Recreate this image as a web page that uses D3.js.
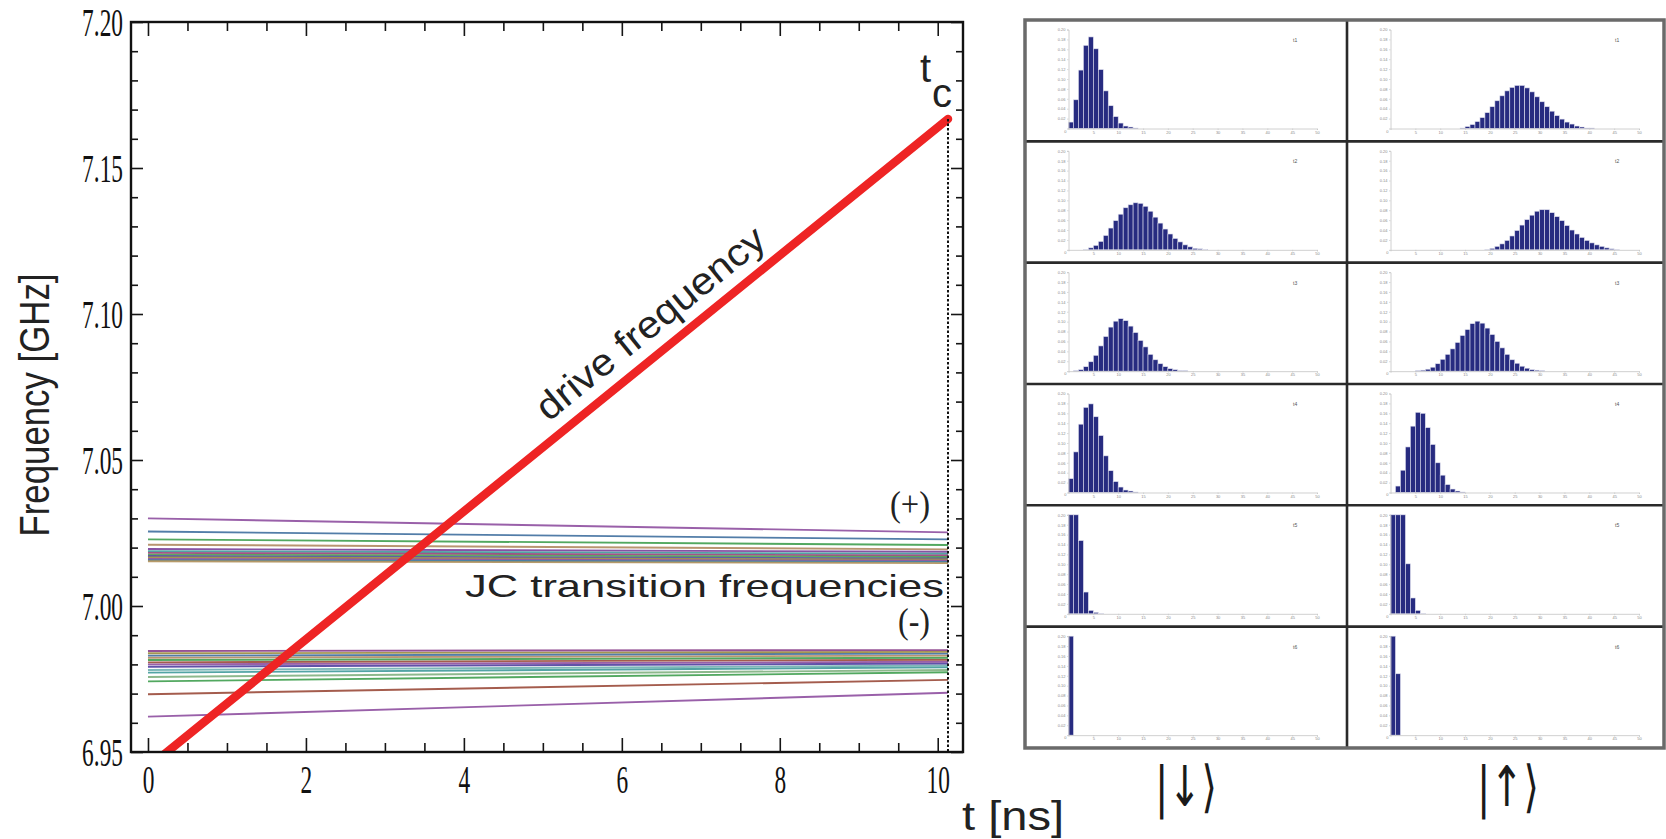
<!DOCTYPE html>
<html>
<head>
<meta charset="utf-8">
<script src="https://cdn.jsdelivr.net/npm/d3@7"></script>
<style>
  html, body { margin: 0; padding: 0; background: #ffffff; }
  svg { display: block; }
</style>
</head>
<body>
<svg id="chart" width="1666" height="839"></svg>
<script>
// ---------------- data ----------------
// left plot: time axis [ns] and frequency axis [GHz]
const tMajorTicks = [0, 2, 4, 6, 8, 10];
const fMajorTicks = [6.95, 7.00, 7.05, 7.10, 7.15, 7.20];
const fTickLabels = ["6.95", "7.00", "7.05", "7.10", "7.15", "7.20"];
const tCritical = 10.13;                 // t_c, end of the sweep
const driveTimes = [0, 10.13];
const driveFreqs = [6.9447, 7.1668];    // linear chirp of the drive

// JC transition frequencies at t = 0 and at t = t_c, (+) branch, outermost first
const jcPlusStart = [7.0300, 7.0255, 7.0228, 7.0210, 7.0195, 7.0188, 7.0182, 7.0176, 7.0171, 7.0166, 7.0161, 7.0157, 7.0153];
const jcPlusEnd   = [7.0252, 7.0228, 7.0209, 7.0194, 7.0186, 7.0179, 7.0173, 7.0168, 7.0163, 7.0159, 7.0155, 7.0151, 7.0147];
const jcPlusColors = ["#8e4fa0", "#3f6f9f", "#3f9f4f", "#b08a60", "#7a3f9a", "#3f9a9a", "#9a3f7a", "#4fa04f", "#4f4f9f", "#9a8a3f", "#8e4fa0", "#3f7f9f", "#b0905a"];

// (-) branch, outermost first
const jcMinusStart = [6.9621, 6.9698, 6.9742, 6.9757, 6.9772, 6.9781, 6.9792, 6.9800, 6.9807, 6.9815, 6.9823, 6.9830, 6.9838, 6.9846];
const jcMinusEnd   = [6.9703, 6.9747, 6.9773, 6.9781, 6.9790, 6.9796, 6.9803, 6.9809, 6.9816, 6.9823, 6.9830, 6.9837, 6.9843, 6.9849];
const jcMinusColors = ["#8e4fa0", "#9a4a3a", "#3f9f4f", "#7fb07f", "#3f9a9a", "#6fb0b0", "#4f3f9f", "#8e4fa0", "#9a4a3a", "#3f9f4f", "#b08a60", "#3f6f9f", "#9a8a3f", "#8a3f8a"];

// right panels: photon-number distributions P(n), first bin index and values
const pDownStart = [0, 3, 1, 0, 0, 0];
const pDown = [
  [0.013, 0.058, 0.118, 0.168, 0.185, 0.161, 0.119, 0.076, 0.046, 0.024, 0.011, 0.005, 0.003, 0.001],
  [0.001, 0.004, 0.009, 0.017, 0.029, 0.044, 0.059, 0.072, 0.085, 0.091, 0.095, 0.094, 0.088, 0.078, 0.066, 0.054, 0.042, 0.032, 0.023, 0.016, 0.010, 0.006, 0.003, 0.002, 0.001],
  [0.001, 0.003, 0.009, 0.019, 0.032, 0.051, 0.070, 0.089, 0.101, 0.106, 0.102, 0.091, 0.078, 0.062, 0.049, 0.034, 0.023, 0.015, 0.009, 0.005, 0.003, 0.001, 0.001],
  [0.028, 0.082, 0.138, 0.172, 0.179, 0.153, 0.115, 0.074, 0.044, 0.022, 0.011, 0.005, 0.003, 0.001],
  [0.200, 0.200, 0.148, 0.044, 0.007, 0.003, 0.001],
  [0.200]
];
const pUpStart = [14, 19, 5, 1, 0, 0];
const pUp = [
  [0.001, 0.004, 0.008, 0.014, 0.022, 0.032, 0.044, 0.056, 0.066, 0.076, 0.083, 0.087, 0.087, 0.082, 0.074, 0.064, 0.054, 0.044, 0.035, 0.026, 0.019, 0.013, 0.009, 0.005, 0.003, 0.001, 0.001],
  [0.001, 0.003, 0.007, 0.012, 0.019, 0.028, 0.039, 0.050, 0.061, 0.070, 0.078, 0.081, 0.081, 0.075, 0.067, 0.059, 0.049, 0.040, 0.032, 0.025, 0.019, 0.014, 0.010, 0.007, 0.004, 0.002, 0.001],
  [0.001, 0.002, 0.004, 0.008, 0.015, 0.024, 0.034, 0.045, 0.058, 0.072, 0.084, 0.096, 0.101, 0.097, 0.087, 0.074, 0.060, 0.047, 0.034, 0.023, 0.016, 0.010, 0.006, 0.003, 0.002, 0.001],
  [0.013, 0.045, 0.092, 0.134, 0.162, 0.160, 0.131, 0.097, 0.060, 0.035, 0.016, 0.007, 0.003, 0.001],
  [0.200, 0.200, 0.200, 0.101, 0.032, 0.007, 0.001],
  [0.200, 0.124]
];
const pTickValues = [0.02, 0.04, 0.06, 0.08, 0.10, 0.12, 0.14, 0.16, 0.18, 0.20];
const nTickValues = [5, 10, 15, 20, 25, 30, 35, 40, 45, 50];
const panelTags = ["t1", "t2", "t3", "t4", "t5", "t6"];
const ketLabels = ["|\u2193\u27E9", "|\u2191\u27E9"];

// ---------------- drawing ----------------
const svg = d3.select("#chart");
const SANS = "'Liberation Sans', Arial, sans-serif";
const SERIF = "'Liberation Serif', 'Times New Roman', serif";

// ===== left plot =====
const L = { left: 131, right: 963, top: 22, bottom: 752 };
const x = d3.scaleLinear().domain([-0.215, 10.32]).range([L.left, L.right]);
const y = d3.scaleLinear().domain([6.95, 7.20]).range([L.bottom, L.top]);

const clipId = "plotClip";
svg.append("clipPath").attr("id", clipId)
  .append("rect").attr("x", L.left).attr("y", L.top)
  .attr("width", L.right - L.left).attr("height", L.bottom - L.top);

const plot = svg.append("g").attr("clip-path", `url(#${clipId})`);

// JC transition lines
function drawBundle(starts, ends, colors) {
  plot.append("g").selectAll("line")
    .data(starts.map((s, i) => ({ s, e: ends[i], c: colors[i % colors.length] })))
    .join("line")
    .attr("x1", x(0)).attr("x2", x(tCritical))
    .attr("y1", d => y(d.s)).attr("y2", d => y(d.e))
    .attr("stroke", d => d.c)
    .attr("stroke-width", 1.9)
    .attr("stroke-opacity", 0.9);
}
drawBundle(jcPlusStart, jcPlusEnd, jcPlusColors);
drawBundle(jcMinusStart, jcMinusEnd, jcMinusColors);

// drive frequency sweep
const driveLine = d3.line().x(d => x(d[0])).y(d => y(d[1]));
plot.append("path")
  .datum(driveTimes.map((t, i) => [t, driveFreqs[i]]))
  .attr("d", driveLine)
  .attr("fill", "none")
  .attr("stroke", "#ee2424")
  .attr("stroke-width", 8.5)
  .attr("stroke-linecap", "round");

// dotted marker at t_c
svg.append("line")
  .attr("x1", x(tCritical)).attr("x2", x(tCritical))
  .attr("y1", y(driveFreqs[1])).attr("y2", L.bottom)
  .attr("stroke", "#111").attr("stroke-width", 2)
  .attr("stroke-dasharray", "2.5,2");

// axes: ticks point inward on all four sides
const tMinor = d3.range(0, 10.001, 0.5).filter(v => v % 2 !== 0);
const fMinor = d3.range(0, 26).map(i => +(6.95 + i * 0.01).toFixed(2)).filter(v => !fMajorTicks.includes(v));

function tickGroup(axis, tx, ty) {
  const g = svg.append("g").attr("transform", `translate(${tx},${ty})`).call(axis);
  g.select(".domain").remove();
  g.selectAll(".tick line").attr("stroke", "#151515").attr("stroke-width", 1.6);
  return g;
}
tickGroup(d3.axisBottom(x).tickValues(tMinor).tickSize(-9).tickFormat(""), 0, L.bottom);
tickGroup(d3.axisTop(x).tickValues(tMinor).tickSize(-9).tickFormat(""), 0, L.top);
tickGroup(d3.axisTop(x).tickValues(tMajorTicks).tickSize(-14).tickFormat(""), 0, L.top);
tickGroup(d3.axisLeft(y).tickValues(fMinor).tickSize(-7).tickFormat(""), L.left, 0);
tickGroup(d3.axisRight(y).tickValues(fMinor).tickSize(-7).tickFormat(""), L.right, 0);
tickGroup(d3.axisRight(y).tickValues(fMajorTicks).tickSize(-12).tickFormat(""), L.right, 0);

const xAxisG = tickGroup(d3.axisBottom(x).tickValues(tMajorTicks).tickSize(-14).tickFormat(d3.format("d")), 0, L.bottom);
xAxisG.selectAll("text")
  .attr("y", 41).attr("dy", null)
  .attr("font-family", SERIF).attr("font-size", 41).attr("fill", "#111")
  .attr("transform", "scale(0.57,1)");

const yAxisG = tickGroup(d3.axisLeft(y).tickValues(fMajorTicks).tickSize(-12).tickFormat((d, i) => fTickLabels[i]), L.left, 0);
yAxisG.selectAll("text")
  .attr("x", -8 / 0.57).attr("dy", "0.33em")
  .attr("font-family", SERIF).attr("font-size", 41).attr("fill", "#111")
  .attr("transform", "scale(0.57,1)");

// frame
svg.append("rect")
  .attr("x", L.left).attr("y", L.top)
  .attr("width", L.right - L.left).attr("height", L.bottom - L.top)
  .attr("fill", "none").attr("stroke", "#111").attr("stroke-width", 2.4);

// labels on the left plot
svg.append("text")
  .attr("transform", "translate(49,405) rotate(-90) scale(1,1.2)")
  .attr("text-anchor", "middle")
  .attr("font-family", SANS).attr("font-size", 36).attr("fill", "#222")
  .attr("textLength", 263).attr("lengthAdjust", "spacingAndGlyphs")
  .text("Frequency [GHz]");

svg.append("text")
  .attr("x", 962).attr("y", 830)
  .attr("font-family", SANS).attr("font-size", 40).attr("fill", "#222")
  .attr("textLength", 102).attr("lengthAdjust", "spacingAndGlyphs")
  .text("t [ns]");

// t_c marker label
const tcLabel = svg.append("text").attr("font-family", SANS).attr("font-size", 40).attr("fill", "#222");
tcLabel.append("tspan").attr("x", 920).attr("y", 82).text("t");
tcLabel.append("tspan").attr("x", 932).attr("y", 107).text("c");

// text along the drive line
{
  const p0 = [x(driveTimes[0]), y(driveFreqs[0])];
  const p1 = [x(driveTimes[1]), y(driveFreqs[1])];
  const ang = Math.atan2(p1[1] - p0[1], p1[0] - p0[0]);
  const tStart = 5.2;
  const ps = [x(tStart), y(driveFreqs[0] + (driveFreqs[1] - driveFreqs[0]) * tStart / driveTimes[1])];
  const off = 16;
  const nx = Math.sin(ang), ny = -Math.cos(ang);
  svg.append("text")
    .attr("transform", `translate(${ps[0] + nx * off},${ps[1] + ny * off}) rotate(${ang * 180 / Math.PI})`)
    .attr("font-family", SANS).attr("font-size", 38).attr("fill", "#222")
    .attr("textLength", 283).attr("lengthAdjust", "spacingAndGlyphs")
    .text("drive frequency");
}

svg.append("text")
  .attr("x", 465).attr("y", 597)
  .attr("font-family", SANS).attr("font-size", 32).attr("fill", "#222")
  .attr("textLength", 479).attr("lengthAdjust", "spacingAndGlyphs")
  .text("JC transition frequencies");

svg.append("text")
  .attr("x", 890).attr("y", 516)
  .attr("font-family", SERIF).attr("font-size", 36).attr("fill", "#222")
  .attr("textLength", 40).attr("lengthAdjust", "spacingAndGlyphs")
  .text("(+)");
svg.append("text")
  .attr("x", 898).attr("y", 633)
  .attr("font-family", SERIF).attr("font-size", 36).attr("fill", "#222")
  .attr("textLength", 32).attr("lengthAdjust", "spacingAndGlyphs")
  .text("(-)");

// ===== right panel grid =====
const G = { left: 1025, top: 20, colW: 322, rowH: 121.33, rows: 6, right: 1664 };

function drawHistogram(cellX, cellY, start, vals, tag) {
  const axisX = cellX + 43.5;
  const baseY = cellY + 108.5;
  const topY = cellY + 9.5;
  const hx = d3.scaleLinear().domain([0, 50]).range([axisX, axisX + 248.5]);
  const hy = d3.scaleLinear().domain([0, 0.2]).range([baseY, topY]);
  const g = svg.append("g");

  // bars
  g.selectAll("rect")
    .data(vals.map((v, i) => ({ n: start + i, v })))
    .join("rect")
    .attr("x", d => hx(d.n))
    .attr("width", d => hx(d.n + 1) - hx(d.n))
    .attr("y", d => hy(Math.min(d.v, 0.2)))
    .attr("height", d => baseY - hy(Math.min(d.v, 0.2)))
    .attr("fill", "#272b80")
    .attr("stroke", "#dfe0ee")
    .attr("stroke-width", 0.6);

  // light axes
  const ax = g.append("g").attr("transform", `translate(0,${baseY})`)
    .call(d3.axisBottom(hx).tickValues(nTickValues).tickSize(1.5).tickPadding(1).tickFormat(d3.format("d")));
  const ay = g.append("g").attr("transform", `translate(${axisX},0)`)
    .call(d3.axisLeft(hy).tickValues(pTickValues).tickSize(1.5).tickPadding(1.5).tickFormat(d3.format(".2f")));
  [ax, ay].forEach(a => {
    a.select(".domain").attr("stroke", "#c4c4c4").attr("stroke-width", 0.8);
    a.selectAll(".tick line").attr("stroke", "#c4c4c4").attr("stroke-width", 0.6);
    a.selectAll("text").attr("font-size", 4).attr("fill", "#8a8a8a").attr("font-family", SANS);
  });
  g.append("text").attr("x", axisX - 2).attr("y", baseY + 4)
    .attr("text-anchor", "end").attr("font-size", 4).attr("fill", "#8a8a8a")
    .attr("font-family", SANS).text("0");
  g.append("text").attr("x", cellX + 268).attr("y", cellY + 22)
    .attr("font-size", 5).attr("fill", "#555").attr("font-family", SANS).text(tag);
}

for (let r = 0; r < G.rows; r++) {
  const cy = G.top + r * G.rowH;
  drawHistogram(G.left, cy, pDownStart[r], pDown[r], panelTags[r]);
  drawHistogram(G.left + G.colW, cy, pUpStart[r], pUp[r], panelTags[r]);
}

// dividers and frame
const gridG = svg.append("g");
for (let r = 1; r < G.rows; r++) {
  gridG.append("line")
    .attr("x1", G.left).attr("x2", G.right)
    .attr("y1", G.top + r * G.rowH).attr("y2", G.top + r * G.rowH)
    .attr("stroke", "#2a2a2a").attr("stroke-width", 2.6);
}
gridG.append("line")
  .attr("x1", G.left + G.colW).attr("x2", G.left + G.colW)
  .attr("y1", G.top).attr("y2", G.top + G.rows * G.rowH)
  .attr("stroke", "#2a2a2a").attr("stroke-width", 2.6);
gridG.append("rect")
  .attr("x", G.left).attr("y", G.top)
  .attr("width", G.right - G.left).attr("height", G.rows * G.rowH)
  .attr("fill", "none").attr("stroke", "#6a6a6a").attr("stroke-width", 3.5);

// ket labels under the columns
ketLabels.forEach((k, i) => {
  svg.append("text")
    .attr("x", G.left + G.colW * (i + 0.5)).attr("y", 806)
    .attr("text-anchor", "middle")
    .attr("font-family", "'DejaVu Sans', sans-serif").attr("font-size", 56).attr("fill", "#1a1a1a")
    .attr("textLength", 62).attr("lengthAdjust", "spacingAndGlyphs")
    .text(k);
});
</script>
</body>
</html>
